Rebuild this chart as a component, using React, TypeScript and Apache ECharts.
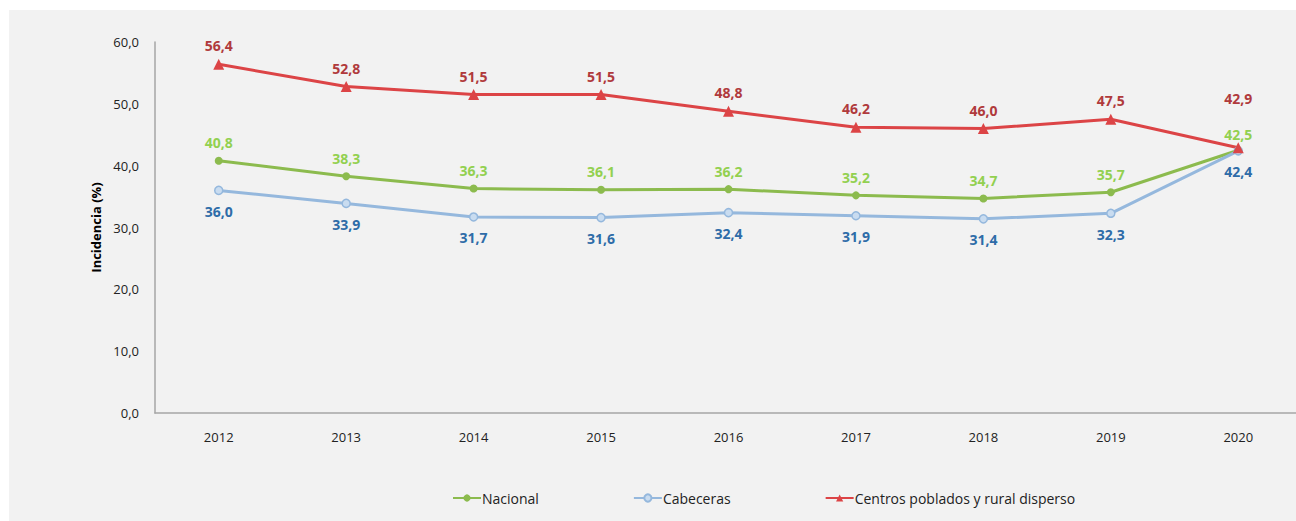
import React, { useEffect, useRef } from "react";
import * as echarts from "echarts";

const years = ["2012", "2013", "2014", "2015", "2016", "2017", "2018", "2019", "2020"];
const nacional = [40.8, 38.3, 36.3, 36.1, 36.2, 35.2, 34.7, 35.7, 42.5];
const cabeceras = [36.0, 33.9, 31.7, 31.6, 32.4, 31.9, 31.4, 32.3, 42.4];
const centros = [56.4, 52.8, 51.5, 51.5, 48.8, 46.2, 46.0, 47.5, 42.9];
const seriesNames = ["Nacional", "Cabeceras", "Centros poblados y rural disperso"];

const FONT = "'Open Sans', 'Noto Sans', sans-serif";
const fmt = (v: number) => v.toFixed(1).replace(".", ",");

export default function App() {
  const ref = useRef<HTMLDivElement>(null);
  useEffect(() => {
    const chart = echarts.init(ref.current!, null, { renderer: "svg" });
    const last = years.length - 1;
    const mk = (vals: number[], lastLabel: any) =>
      vals.map((v, i) => (i === last ? { value: v, label: lastLabel } : v));
    chart.setOption({
      animation: false,
      backgroundColor: "#ffffff",
      textStyle: { fontFamily: FONT },
      graphic: [
        {
          type: "rect",
          z: -10,
          silent: true,
          shape: { x: 9, y: 10, width: 1300, height: 520 },
          style: { fill: "#f2f2f2" },
        },
      ],
      grid: {
        left: 155,
        top: 42,
        width: 1147,
        height: 371,
        containLabel: false,
        outerBoundsMode: "none",
      },
      legend: {
        data: seriesNames,
        left: 447,
        top: 486,
        itemWidth: 28,
        itemHeight: 9,
        itemGap: 94,
        textStyle: { fontFamily: FONT, fontSize: 14, color: "#222", padding: [0, 0, 0, -4] },
      },
      xAxis: {
        type: "category",
        data: years,
        boundaryGap: true,
        axisLine: { lineStyle: { color: "#a6a6a6", width: 1.5 } },
        axisTick: { show: false },
        axisLabel: { color: "#222", fontSize: 13, margin: 17, fontFamily: FONT },
        splitLine: { show: false },
      },
      yAxis: {
        type: "value",
        min: 0,
        max: 60,
        interval: 10,
        name: "Incidencia (%)",
        nameLocation: "middle",
        nameGap: 50,
        nameTextStyle: { fontWeight: "bold", fontSize: 13, color: "#000", fontFamily: FONT },
        axisLine: { show: true, lineStyle: { color: "#a6a6a6", width: 1.5 } },
        axisTick: { show: false },
        splitLine: { show: false },
        axisLabel: { color: "#222", fontSize: 13, margin: 16, formatter: (v: number) => fmt(v), fontFamily: FONT },
      },
      series: [
        {
          name: seriesNames[0],
          type: "line",
          data: mk(nacional, { distance: 5 }),
          color: "#8cbb4e",
          lineStyle: { width: 3, color: "#8cbb4e" },
          symbol: "circle",
          symbolSize: 8,
          itemStyle: { color: "#8cbb4e" },
          label: {
            show: true,
            position: "top",
            distance: 7,
            color: "#92d050",
            fontWeight: "bold",
            fontSize: 14,
            fontFamily: FONT,
            formatter: (p: any) => fmt(p.value),
          },
        },
        {
          name: seriesNames[1],
          type: "line",
          data: mk(cabeceras, { distance: 9 }),
          color: "#95b8dd",
          lineStyle: { width: 3, color: "#95b8dd" },
          symbol: "circle",
          symbolSize: 8,
          itemStyle: { color: "#c9dcf0", borderColor: "#95b8dd", borderWidth: 1.5 },
          label: {
            show: true,
            position: "bottom",
            distance: 9,
            color: "#2e6ca8",
            fontWeight: "bold",
            fontSize: 14,
            fontFamily: FONT,
            formatter: (p: any) => fmt(p.value),
          },
        },
        {
          name: seriesNames[2],
          type: "line",
          data: mk(centros, { distance: 37 }),
          color: "#dc4446",
          lineStyle: { width: 3, color: "#dc4446" },
          symbol: "triangle",
          symbolSize: 11,
          itemStyle: { color: "#dc4446" },
          label: {
            show: true,
            position: "top",
            distance: 6,
            color: "#b03a3c",
            fontWeight: "bold",
            fontSize: 14,
            fontFamily: FONT,
            formatter: (p: any) => fmt(p.value),
          },
        },
      ],
    });
    return () => chart.dispose();
  }, []);
  return (
    <div
      ref={ref}
      style={{ position: "fixed", left: 0, top: 0, width: 1296, height: 521 }}
    />
  );
}
